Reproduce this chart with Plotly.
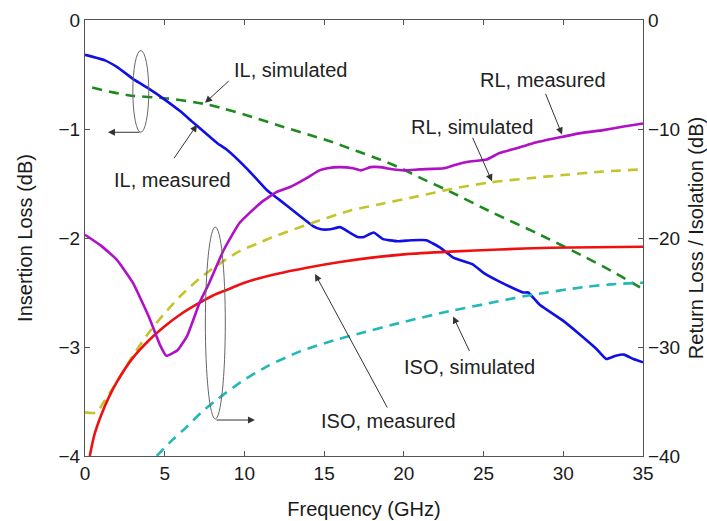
import plotly.graph_objects as go

# Insertion loss (left axis, dB)
il_meas_f = [0, 1.25, 2, 3.1, 4, 5, 6, 6.7, 7.5, 8.3, 8.9, 10.2, 11.4, 12.2, 13.5, 14.3, 14.8,
             15.4, 16.0, 16.6, 17.1, 17.5, 18.1, 18.7, 19.6, 20.5, 21.4, 22.3, 23.1, 24.3, 25.0,
             26.0, 27.5, 27.8, 28.5, 30.0, 31.0, 32.1, 32.7, 33.3, 33.8, 34.4, 35]
il_meas = [-0.32, -0.37, -0.43, -0.55, -0.63, -0.73, -0.84, -0.93, -1.03, -1.13, -1.19, -1.37,
           -1.56, -1.65, -1.80, -1.89, -1.92, -1.92, -1.90, -1.95, -1.99, -1.99, -1.95, -2.01,
           -2.03, -2.02, -2.02, -2.09, -2.18, -2.24, -2.32, -2.40, -2.50, -2.50, -2.61, -2.76,
           -2.88, -3.02, -3.11, -3.08, -3.07, -3.11, -3.14]

il_sim_f = [0.45, 2.7, 5.2, 7.5, 8.6, 10.5, 12.4, 14.0, 15.5, 17.0, 18.5, 19.8, 21.2, 22.7,
            25.6, 28.4, 31.3, 33.0, 35]
il_sim = [-0.62, -0.69, -0.72, -0.77, -0.81, -0.89, -0.98, -1.05, -1.12, -1.20, -1.28, -1.36,
          -1.46, -1.56, -1.77, -1.96, -2.17, -2.30, -2.47]

# Return loss / isolation (right axis, dB)
rl_meas_f = [0, 1, 2, 3, 4.0, 4.7, 5.1, 5.8, 6.4, 7.2, 7.8, 8.7, 9.7, 11.0, 12.0, 12.9,
             13.9, 14.7, 15.2, 16.0, 16.8, 17.3, 17.9, 18.5, 19.3, 20.0, 21.0, 22.5, 23.2,
             24.0, 25.2, 26.0, 27.0, 28.1, 30.0, 31.0, 32.5, 33.7, 35]
rl_meas = [-19.7, -20.7, -22.0, -24.1, -27.2, -29.8, -30.8, -30.3, -29.0, -25.9, -24.1,
           -21.1, -18.6, -16.8, -15.8, -15.3, -14.5, -13.8, -13.6, -13.5, -13.6, -13.8, -13.5,
           -13.5, -13.7, -13.8, -13.7, -13.6, -13.3, -13.0, -12.8, -12.2, -11.8, -11.3, -10.7,
           -10.4, -10.1, -9.8, -9.5]

rl_sim_f = [0, 0.7, 1.2, 2.0, 3.0, 4.0, 5.0, 6.0, 7.2, 8.5, 9.7, 11.0, 11.8, 13.9, 16.6, 18.5,
            20.8, 23.0, 25.4, 28.0, 30.2, 32.5, 35]
rl_sim = [-36.0, -36.0, -35.0, -33.2, -30.8, -28.7, -26.9, -25.3, -23.7, -22.3, -21.2, -20.4,
          -19.9, -18.8, -17.5, -16.9, -16.2, -15.5, -14.9, -14.5, -14.2, -13.9, -13.7]

iso_meas_f = [0.3, 0.6, 1.0, 1.5, 2.0, 3.0, 4.0, 5.0, 6.0, 7.0, 8.0, 9.0, 10.0, 12.0, 14.0,
              16.0, 18.0, 20.0, 22.9, 26.0, 29.2, 32.0, 35]
iso_meas = [-40.0, -38.0, -36.3, -34.6, -33.2, -31.0, -29.4, -28.1, -27.0, -26.1, -25.3, -24.7,
            -24.1, -23.3, -22.7, -22.2, -21.8, -21.5, -21.25, -21.05, -20.9, -20.85, -20.8]

iso_sim_f = [4.5, 5.5, 6.4, 7.3, 8.3, 9.8, 11.4, 13.5, 15.6, 17.1, 20.0, 22.9, 25.3, 27.7,
             31.3, 33.0, 35]
iso_sim = [-40.0, -38.5, -37.3, -36.0, -34.8, -33.2, -31.8, -30.4, -29.4, -28.8, -27.7, -26.7,
           -26.0, -25.3, -24.5, -24.25, -24.1]

x_ticks = [0, 5, 10, 15, 20, 25, 30, 35]
left_ticks = [0, -1, -2, -3, -4]
right_ticks = [0, -10, -20, -30, -40]

FONT = "Liberation Sans, Arial, sans-serif"
AXIS = "#555555"

fig = go.Figure()

def add_line(x, y, color, dash=None, axis="y", smooth=0.5):
    fig.add_trace(go.Scatter(
        x=x, y=y, mode="lines", yaxis=axis, showlegend=False,
        line=dict(color=color, width=2.6, dash=dash or "solid", shape="spline",
                  smoothing=smooth),
    ))

add_line(rl_sim_f, rl_sim, "#c4c42a", "10px,7px", "y2", 0.8)
add_line(iso_sim_f, iso_sim, "#22b8b8", "10px,7px", "y2", 0.8)
add_line(iso_meas_f, iso_meas, "#ee1111", None, "y2", 0.8)
add_line(rl_meas_f, rl_meas, "#b010c6", None, "y2", 0.4)
add_line(il_sim_f, il_sim, "#1e8a1e", "10px,7px", "y", 0.8)
add_line(il_meas_f, il_meas, "#1010e6", None, "y", 0.4)

# Grouping ellipses
fig.add_shape(type="circle", xref="x", yref="y", x0=3.0, x1=4.0, y0=-1.03, y1=-0.28,
              line=dict(color="#666666", width=1))
fig.add_shape(type="circle", xref="x", yref="y", x0=7.55, x1=8.8, y0=-3.66, y1=-1.9,
              line=dict(color="#666666", width=1))

# Labels
labels = [
    ("IL, simulated", 12.86, -0.46),
    ("IL, measured", 5.46, -1.465),
    ("RL, measured", 28.73, -0.55),
    ("RL, simulated", 24.28, -0.98),
    ("ISO, simulated", 24.09, -3.18),
    ("ISO, measured", 19.01, -3.68),
]
for text, x, y in labels:
    fig.add_annotation(x=x, y=y, xref="x", yref="y", text=text, showarrow=False,
                       font=dict(family=FONT, size=20, color="#222222"))

# Pointer arrows: head at (x, y), tail offset (ax, ay) in pixels
arrows = [
    (7.53, -0.76, 25, -23),
    (7.03, -0.96, -24, 35),
    (29.92, -1.05, -17, -42),
    (25.53, -1.48, -20, -45),
    (23.09, -2.72, 17, 36),
    (14.43, -2.33, 73, 135),
    (1.44, -1.03, 33, 0),
    (10.66, -3.67, -40, 0),
]
for x, y, ax, ay in arrows:
    fig.add_annotation(x=x, y=y, xref="x", yref="y", ax=ax, ay=ay, text="",
                       showarrow=True, arrowhead=2, arrowsize=1.4, arrowwidth=1,
                       arrowcolor="#333333")

fig.update_layout(
    width=707, height=521,
    margin=dict(l=85, r=64, t=20, b=65),
    paper_bgcolor="white", plot_bgcolor="white",
    font=dict(family=FONT, size=19, color="#1a1a1a"),
    xaxis=dict(range=[0, 35], tickvals=x_ticks, ticks="inside", ticklen=5,
               tickcolor=AXIS, showline=True, linecolor=AXIS, linewidth=1.3,
               mirror="ticks", showgrid=False, zeroline=False, automargin=False,
               title=dict(text="Frequency (GHz)", font=dict(size=20), standoff=19)),
    yaxis=dict(range=[-4, 0], tickvals=left_ticks, ticktext=["0", "−1", "−2", "−3", "−4"],
               ticks="inside", ticklen=5, tickcolor=AXIS, showline=True, linecolor=AXIS,
               linewidth=1.3, showgrid=False, zeroline=False, automargin=False,
               title=dict(text="Insertion Loss (dB)", font=dict(size=20), standoff=20)),
    yaxis2=dict(range=[-40, 0], tickvals=right_ticks,
                ticktext=["0", "−10", "−20", "−30", "−40"], overlaying="y", side="right",
                ticks="inside", ticklen=5, tickcolor=AXIS, showline=True, linecolor=AXIS,
                linewidth=1.3, showgrid=False, zeroline=False, automargin=False,
                title=dict(text="Return Loss / Isolation (dB)", font=dict(size=20),
                           standoff=14)),
)

fig.write_html("out.html")
